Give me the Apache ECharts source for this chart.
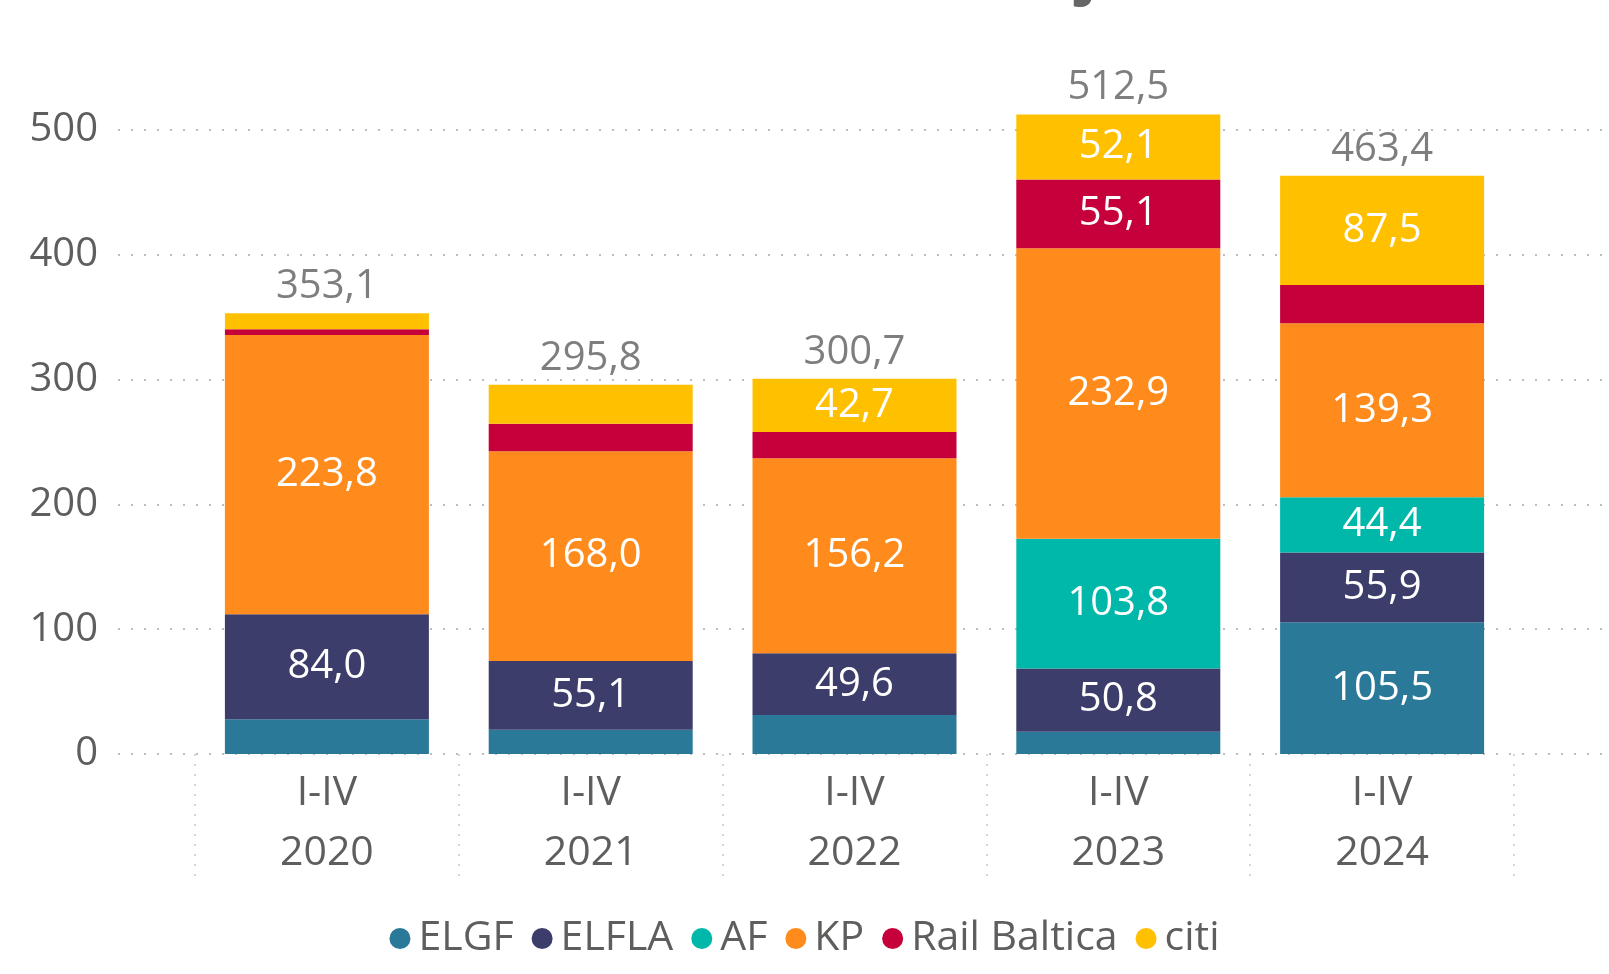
<!DOCTYPE html>
<html>
<head>
<meta charset="utf-8">
<script src="https://cdn.jsdelivr.net/npm/echarts@6/dist/echarts.min.js"></script>
<style>
  html, body { margin: 0; padding: 0; background: #fff; }
  #chart { width: 1609px; height: 974px; }
</style>
</head>
<body>
<div id="chart"></div>
<script>
const categories = ['I-IV\n2020', 'I-IV\n2021', 'I-IV\n2022', 'I-IV\n2023', 'I-IV\n2024'];
const elgf = [27.9, 19.5, 31.2, 17.8, 105.5];
const elfla = [84.0, 55.1, 49.6, 50.8, 55.9];
const af = [0, 0, 0, 103.8, 44.4];
const kp = [223.8, 168.0, 156.2, 232.9, 139.3];
const railBaltica = [4.6, 22.0, 21.0, 55.1, 30.8];
const citi = [12.8, 31.2, 42.7, 52.1, 87.5];
const totals = [353.1, 295.8, 300.7, 512.5, 463.4];

const FONT = "'Open Sans', 'Noto Sans', sans-serif";
const GRAY = '#605E5C';
const fmt = (v) => v.toFixed(1).replace('.', ',');

const chart = echarts.init(document.getElementById('chart'));

const stackSeries = (name, data, color) => ({
  name: name,
  type: 'bar',
  stack: 'total',
  xAxisIndex: 1,
  yAxisIndex: 1,
  barWidth: 204,
  clip: false,
  data: data,
  itemStyle: { color: color },
  label: {
    show: true,
    position: 'inside',
    color: '#fff',
    fontSize: 40,
    fontFamily: FONT,
    formatter: (p) => (p.value >= 40 ? fmt(p.value) : ''),
  },
});

const option = {
  animation: false,
  // title is cut off at the top edge in the source, only descenders show
  title: {
    text: 'ES fondu izmaksas, milj. EUR',
    left: 371,
    top: -62,
    textStyle: { fontSize: 62, fontWeight: 'bold', color: '#666', fontFamily: FONT },
  },
  legend: {
    data: ['ELGF', 'ELFLA', 'AF', 'KP', 'Rail Baltica', 'citi'],
    bottom: 10,
    left: 'center',
    icon: 'circle',
    itemWidth: 21,
    itemHeight: 21,
    itemGap: 18,
    textStyle: { fontSize: 41, color: GRAY, fontFamily: FONT, padding: [0, 0, 0, 3] },
  },
  grid: [
    { left: 118, right: 0, top: 130, bottom: 220 },
    { left: 195, right: 95, top: 130, bottom: 220 },
  ],
  xAxis: [
    { gridIndex: 0, type: 'category', data: categories, show: false },
    {
      gridIndex: 1,
      type: 'category',
      data: categories,
      axisLine: { show: false },
      axisTick: { show: true, length: 128, lineStyle: { color: '#c8c8c8', width: 1.5, type: [2, 8] } },
      axisLabel: { fontSize: 41, lineHeight: 60, color: GRAY, fontFamily: FONT, margin: 9 },
    },
  ],
  yAxis: [
    {
      gridIndex: 0,
      type: 'value',
      min: 0,
      max: 500,
      interval: 100,
      axisLine: { show: false },
      axisTick: { show: false },
      axisLabel: { fontSize: 40, lineHeight: 40, color: GRAY, fontFamily: FONT, margin: 20, padding: [6, 0, 0, 0] },
      splitLine: { lineStyle: { color: '#bdbdbd', width: 2, type: [2, 11] } },
    },
    { gridIndex: 1, type: 'value', min: 0, max: 500, interval: 100, show: false },
  ],
  series: [
    stackSeries('ELGF', elgf, '#2A7999'),
    stackSeries('ELFLA', elfla, '#3D3D6B'),
    stackSeries('AF', af, '#00B8AA'),
    stackSeries('KP', kp, '#FE8B1C'),
    stackSeries('Rail Baltica', railBaltica, '#C5003A'),
    stackSeries('citi', citi, '#FFC000'),
    {
      name: 'total',
      type: 'scatter',
      xAxisIndex: 1,
      yAxisIndex: 1,
      clip: false,
      symbolSize: 1,
      itemStyle: { color: 'rgba(0,0,0,0)' },
      data: totals,
      label: {
        show: true,
        position: 'top',
        distance: 6,
        color: GRAY,
        fontSize: 40,
        fontFamily: FONT,
        formatter: (p) => fmt(p.value),
      },
    },
  ],
};

chart.setOption(option);
</script>
</body>
</html>
